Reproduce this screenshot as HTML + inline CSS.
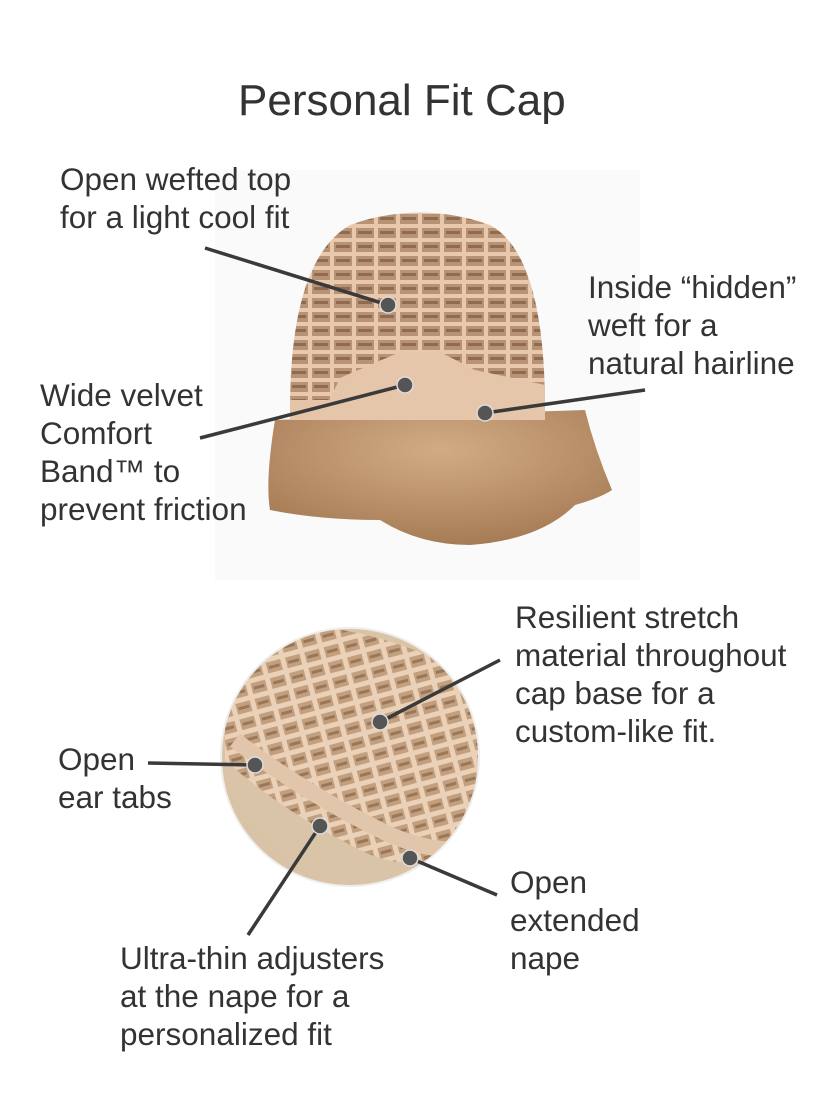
<!DOCTYPE html>
<html><head><meta charset="utf-8"><style>
html,body{margin:0;padding:0;background:#fff;}
body{width:840px;height:1120px;position:relative;overflow:hidden;font-family:"Liberation Sans",sans-serif;color:#333;}
.t{position:absolute;font-size:31.5px;line-height:38px;white-space:nowrap;}
svg{position:absolute;left:0;top:0;}
</style></head><body>
<svg width="840" height="1120" viewBox="0 0 840 1120">
<defs>
<radialGradient id="hair" cx="50%" cy="30%" r="70%"><stop offset="0" stop-color="#d2ab85"/><stop offset="1" stop-color="#a67c55"/></radialGradient>
<pattern id="grid" width="22" height="14" patternUnits="userSpaceOnUse"><rect width="22" height="14" fill="#b89274"/><rect x="0" y="0" width="22" height="4" fill="#e8c9ad"/><rect x="0" y="0" width="4" height="14" fill="#e8c9ad"/><rect x="6" y="7" width="14" height="3" fill="#8f6b50"/></pattern>
<pattern id="grid2" width="20" height="16" patternUnits="userSpaceOnUse" patternTransform="rotate(-15)"><rect width="20" height="16" fill="#c2a07f"/><rect width="20" height="5" fill="#ead1b8"/><rect width="5" height="16" fill="#ead1b8"/><rect x="7" y="9" width="11" height="3" fill="#9a7758"/></pattern>
<clipPath id="cc"><circle cx="350" cy="757" r="128"/></clipPath>
</defs>
<rect x="215" y="170" width="425" height="410" fill="#fafafa"/>
<path d="M275 420 Q265 480 270 510 Q320 520 380 520 Q420 545 470 545 Q540 540 575 505 Q600 498 612 490 Q595 450 585 410 Z" fill="url(#hair)"/>
<path d="M290 410 Q290 260 350 225 Q420 200 490 225 Q545 255 545 410 Z" fill="url(#grid)"/>
<path d="M290 400 L545 400 L545 420 L290 420 Z" fill="#e5c4a8"/>
<path d="M340 378 L400 352 L440 352 L475 370 L545 385 L545 420 L320 420 Z" fill="#e6c6aa"/>
<circle cx="350" cy="757" r="130" fill="#eeeeee"/>
<g clip-path="url(#cc)">
<rect x="215" y="620" width="270" height="280" fill="#d9c4a8"/>
<path d="M225 640 Q330 600 480 680 L480 840 Q420 880 360 850 Q280 810 225 760 Z" fill="url(#grid2)"/>
<path d="M235 740 Q300 790 380 830 Q420 850 460 850" stroke="#e2c6ab" stroke-width="16" fill="none"/>
<path d="M225 780 Q270 860 330 885 L230 890 Z" fill="#d8c3a6"/>
</g>
<g stroke="#3a3a3a" stroke-width="3.5" fill="none">
<line x1="205" y1="248" x2="388" y2="305"/>
<line x1="645" y1="390" x2="485" y2="413"/>
<line x1="200" y1="438" x2="405" y2="385"/>
<line x1="500" y1="660" x2="380" y2="722"/>
<line x1="148" y1="763" x2="255" y2="765"/>
<line x1="248" y1="935" x2="320" y2="826"/>
<line x1="497" y1="895" x2="410" y2="858"/>
</g>
<g fill="#555" stroke="#ddd" stroke-width="1.5">
<circle cx="388" cy="305" r="8"/><circle cx="485" cy="413" r="8"/><circle cx="405" cy="385" r="8"/>
<circle cx="380" cy="722" r="8"/><circle cx="255" cy="765" r="8"/><circle cx="320" cy="826" r="8"/><circle cx="410" cy="858" r="8"/>
</g>
</svg>
<div class="t" style="left:238px;top:76px;font-size:44px;line-height:50px;">Personal Fit Cap</div>
<div class="t" style="left:60px;top:160px;">Open wefted top<br>for a light cool fit</div>
<div class="t" style="left:588px;top:268px;">Inside “hidden”<br>weft for a<br>natural hairline</div>
<div class="t" style="left:40px;top:376px;">Wide velvet<br>Comfort<br>Band™ to<br>prevent friction</div>
<div class="t" style="left:515px;top:598px;">Resilient stretch<br>material throughout<br>cap base for a<br>custom-like fit.</div>
<div class="t" style="left:58px;top:740px;">Open<br>ear tabs</div>
<div class="t" style="left:510px;top:863px;">Open<br>extended<br>nape</div>
<div class="t" style="left:120px;top:939px;">Ultra-thin adjusters<br>at the nape for a<br>personalized fit</div>
</body></html>
